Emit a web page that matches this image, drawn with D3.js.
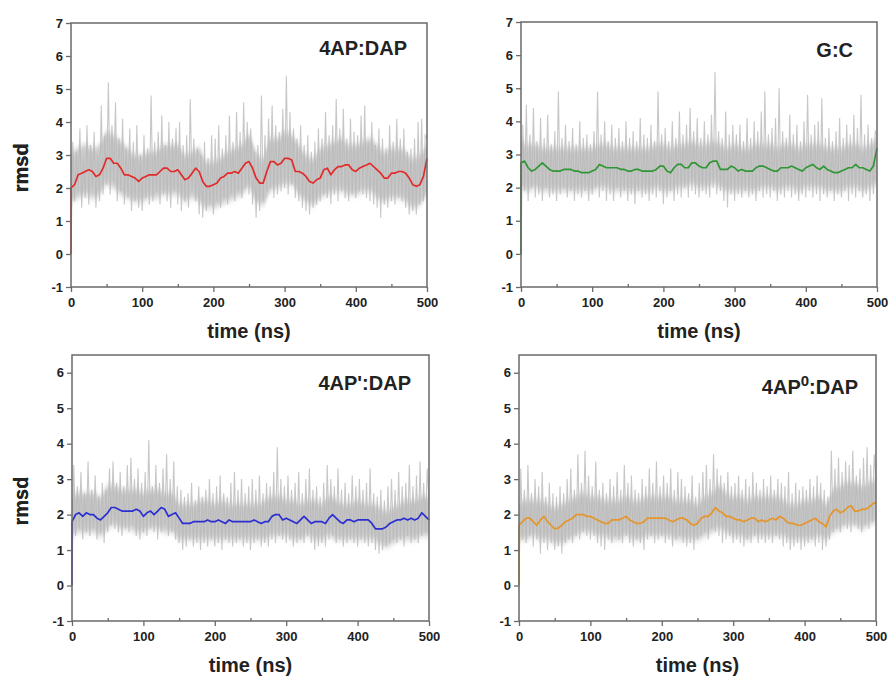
<!DOCTYPE html>
<html>
<head>
<meta charset="utf-8">
<script src="https://cdn.jsdelivr.net/npm/d3@7"></script>
<style>
  body { margin: 0; background: #fff; }
  svg { font-family: 'Liberation Sans', Arial, sans-serif; font-weight: bold; }
</style>
</head>
<body>
<svg id="rmsd-svg" width="890" height="677"></svg>
<script>
// time axis (ns)
var rawStep = 2.5
var smoothStep = 5
var bandStep = 10
var xTicks = [0, 100, 200, 300, 400, 500]
var xMinorTicks = [50, 150, 250, 350, 450]
var yTicksTop = [-1, 0, 1, 2, 3, 4, 5, 6, 7]
var yTicksBottom = [-1, 0, 1, 2, 3, 4, 5, 6]

// raw rmsd, one value every 2.5 ns (0 .. 500)
var raw4APDAP = [
  0, 3.4, 1.6, 3.1, 1.9, 3.8, 1.4, 2.9, 1.7, 3.9, 1.5, 3.3, 2.0, 3.7, 1.4, 3.0, 1.6, 4.5, 1.8, 3.6,
  2.1, 5.2, 1.8, 3.9, 2.2, 4.6, 1.6, 3.5, 1.9, 4.1, 1.5, 3.2, 1.7, 3.8, 1.3, 3.4, 1.6, 3.9, 1.4, 3.0,
  1.3, 3.6, 1.7, 3.2, 1.5, 4.8, 1.6, 3.4, 1.9, 3.7, 1.5, 4.2, 1.8, 3.3, 1.6, 4.0, 1.4, 3.5, 1.9, 3.8,
  1.5, 4.0, 1.3, 3.3, 1.6, 3.6, 1.4, 4.7, 1.9, 3.5, 1.6, 3.2, 1.2, 3.0, 1.1, 3.4, 1.3, 2.9, 1.5, 3.6,
  1.2, 3.5, 1.6, 3.9, 1.4, 3.2, 1.7, 3.6, 1.5, 4.2, 1.8, 3.4, 1.6, 4.3, 1.9, 3.7, 1.7, 4.6, 2.0, 4.0,
  1.8, 3.8, 1.5, 3.1, 1.1, 3.3, 1.3, 4.8, 1.6, 3.6, 1.9, 4.1, 2.0, 4.5, 1.7, 3.9, 1.8, 3.7, 1.9, 4.4,
  2.0, 5.4, 1.8, 4.3, 2.1, 3.8, 1.7, 3.5, 1.6, 3.9, 1.4, 3.3, 1.3, 3.6, 1.2, 3.1, 1.4, 3.4, 1.5, 3.8,
  1.6, 3.5, 1.8, 4.3, 1.7, 3.6, 1.5, 3.9, 1.8, 4.7, 1.6, 3.8, 1.9, 4.4, 1.7, 3.5, 1.6, 4.1, 1.8, 3.7,
  1.7, 3.6, 1.9, 4.2, 1.8, 4.5, 1.7, 3.4, 1.6, 4.0, 1.5, 3.3, 1.4, 3.8, 1.1, 3.5, 1.5, 3.2, 1.4, 3.9,
  1.6, 3.4, 1.5, 4.1, 1.7, 3.5, 1.6, 3.8, 1.4, 3.1, 1.2, 3.2, 1.3, 3.5, 1.2, 4.0, 1.5, 4.1, 1.6, 3.6,
  3.5
]
var rawGC = [
  0, 3.9, 1.9, 4.5, 1.6, 3.6, 2.0, 4.4, 1.7, 3.4, 1.8, 4.1, 1.6, 3.5, 2.0, 4.2, 1.7, 3.3, 1.8, 3.7,
  1.6, 4.9, 1.8, 3.5, 2.0, 3.9, 1.7, 3.4, 1.9, 3.8, 1.6, 3.3, 1.8, 4.0, 1.7, 3.5, 1.9, 3.6, 1.6, 3.3,
  1.8, 3.7, 2.0, 4.9, 1.7, 3.6, 1.9, 4.0, 1.6, 3.4, 1.8, 3.9, 1.6, 3.5, 2.0, 3.8, 1.7, 3.4, 1.9, 4.0,
  1.6, 3.5, 1.8, 3.7, 1.5, 3.4, 1.9, 4.1, 1.7, 3.6, 1.8, 3.5, 1.6, 3.9, 1.8, 3.4, 1.7, 4.9, 1.9, 3.6,
  1.5, 3.8, 1.7, 3.4, 1.9, 4.0, 1.6, 3.5, 1.8, 4.3, 1.7, 3.6, 2.0, 3.9, 1.7, 4.4, 1.9, 3.7, 1.8, 4.1,
  1.7, 3.5, 1.9, 4.0, 1.8, 3.6, 1.7, 4.2, 2.0, 5.5, 1.8, 3.7, 1.9, 3.5, 1.6, 4.3, 1.4, 3.6, 1.8, 3.9,
  1.6, 3.6, 1.8, 3.9, 1.7, 3.4, 1.9, 4.1, 1.7, 3.5, 1.8, 4.0, 1.6, 3.7, 1.9, 4.3, 1.7, 4.9, 1.8, 3.6,
  1.7, 3.8, 1.9, 4.1, 1.6, 5.0, 1.8, 3.7, 1.7, 3.5, 1.9, 4.2, 1.7, 3.6, 1.8, 3.9, 1.6, 3.4, 1.8, 4.0,
  1.7, 4.8, 1.9, 3.6, 1.7, 3.9, 1.8, 4.0, 1.6, 4.7, 1.8, 3.5, 1.7, 3.8, 1.9, 3.4, 1.6, 3.7, 1.8, 4.1,
  1.7, 3.5, 1.9, 3.9, 1.6, 3.6, 1.8, 4.2, 1.7, 3.8, 1.9, 4.8, 1.7, 3.6, 1.8, 3.9, 1.6, 3.5, 1.8, 3.7,
  3.6
]
var raw4APpDAP = [
  0, 3.4, 1.4, 2.8, 1.6, 3.2, 1.3, 2.6, 1.5, 3.5, 1.4, 2.7, 1.6, 3.1, 1.3, 2.5, 1.5, 2.9, 1.2, 2.7,
  1.5, 3.3, 1.7, 3.5, 1.6, 2.9, 1.5, 3.2, 1.4, 2.8, 1.6, 3.4, 1.5, 3.6, 1.7, 3.0, 1.4, 3.3, 1.3, 2.9,
  1.5, 3.2, 1.4, 4.1, 1.6, 2.8, 1.5, 3.4, 1.3, 2.9, 1.5, 3.3, 1.7, 3.7, 1.4, 3.0, 1.5, 3.5, 1.3, 2.8,
  1.2, 2.7, 1.0, 2.5, 1.1, 2.6, 1.3, 2.9, 1.1, 2.4, 1.2, 2.8, 1.0, 2.5, 1.2, 2.7, 1.1, 3.0, 1.3, 2.6,
  1.1, 2.8, 1.2, 3.1, 1.0, 2.6, 1.3, 2.5, 1.2, 2.9, 1.1, 3.2, 1.2, 2.7, 1.3, 3.0, 1.1, 2.6, 1.2, 2.8,
  1.0, 3.0, 1.2, 2.7, 1.3, 3.1, 1.1, 2.6, 1.2, 2.9, 1.1, 2.8, 1.3, 3.2, 1.2, 3.9, 1.4, 3.0, 1.3, 2.8,
  1.2, 3.1, 1.3, 2.7, 1.1, 2.9, 1.2, 3.2, 1.3, 2.6, 1.2, 3.0, 1.4, 3.3, 1.2, 2.7, 1.0, 2.8, 1.1, 2.5,
  1.2, 2.9, 1.1, 3.4, 1.3, 3.0, 1.4, 2.8, 1.2, 3.3, 1.3, 2.7, 1.1, 2.9, 1.2, 2.6, 1.3, 3.1, 1.2, 2.8,
  1.1, 3.0, 1.3, 2.7, 1.2, 2.9, 1.1, 3.3, 1.2, 2.6, 1.0, 2.5, 0.9, 2.7, 1.0, 2.4, 1.1, 2.8, 1.2, 3.0,
  1.3, 2.7, 1.2, 3.2, 1.3, 2.8, 1.1, 2.9, 1.4, 3.4, 1.2, 2.8, 1.3, 3.1, 1.2, 3.5, 1.4, 2.9, 1.5, 3.3,
  2.4
]
var raw4AP0DAP = [
  0, 3.3, 1.3, 2.7, 1.2, 3.4, 1.4, 2.6, 1.1, 3.0, 1.3, 2.8, 0.9, 3.2, 1.2, 2.5, 1.0, 2.9, 1.2, 2.6,
  1.0, 2.5, 1.1, 2.8, 0.9, 2.6, 1.2, 3.0, 1.3, 3.3, 1.2, 2.7, 1.4, 3.7, 1.3, 2.9, 1.5, 3.8, 1.4, 3.1,
  1.3, 2.8, 1.4, 3.5, 1.2, 2.7, 1.1, 2.9, 1.0, 2.6, 1.3, 3.0, 1.2, 2.8, 1.4, 3.2, 1.3, 2.7, 1.2, 3.4,
  1.4, 2.9, 1.2, 3.1, 1.1, 2.7, 1.3, 2.6, 1.2, 3.0, 1.0, 2.8, 1.3, 3.3, 1.4, 2.9, 1.2, 3.5, 1.3, 2.8,
  1.4, 3.1, 1.2, 2.9, 1.3, 3.3, 1.1, 2.7, 1.3, 3.2, 1.4, 3.0, 1.2, 2.8, 1.1, 2.6, 1.2, 3.1, 1.0, 2.5,
  1.3, 2.9, 1.4, 3.2, 1.5, 3.4, 1.3, 3.0, 1.6, 3.7, 1.5, 3.3, 1.4, 3.1, 1.2, 2.9, 1.3, 3.2, 1.4, 2.8,
  1.2, 2.9, 1.3, 3.1, 1.2, 2.7, 1.1, 3.0, 1.3, 2.8, 1.2, 3.2, 1.4, 2.9, 1.2, 2.7, 1.3, 3.0, 1.2, 2.8,
  1.3, 3.1, 1.2, 2.7, 1.4, 3.0, 1.3, 2.9, 1.1, 2.8, 1.2, 3.2, 1.0, 2.6, 1.1, 2.9, 1.2, 2.7, 1.0, 2.8,
  1.1, 2.7, 1.2, 3.0, 1.3, 2.8, 1.1, 3.1, 1.2, 2.9, 1.0, 2.7, 1.1, 2.5, 1.3, 3.8, 1.5, 3.3, 1.6, 3.6,
  1.5, 3.2, 1.7, 3.5, 1.6, 3.4, 1.5, 3.8, 1.7, 3.1, 1.6, 3.3, 1.5, 3.6, 1.7, 3.9, 1.6, 3.4, 1.8, 3.7,
  2.9
]

// dense core of the raw trace, lower / upper edge every 10 ns (0 .. 500)
var coreLow4APDAP = [
  1.6, 1.7, 1.8, 1.7, 1.8, 2.1, 2.0, 1.8, 1.7, 1.6,
  1.6, 1.7, 1.7, 1.8, 1.8, 1.8, 1.6, 1.7, 1.6, 1.4,
  1.4, 1.5, 1.6, 1.7, 1.8, 2.0, 1.6, 1.5, 1.9, 2.0,
  2.1, 2.1, 1.8, 1.6, 1.5, 1.7, 1.8, 1.9, 1.9, 1.8,
  1.8, 1.9, 1.9, 1.7, 1.6, 1.7, 1.7, 1.6, 1.4, 1.5,
  1.8
]
var coreHigh4APDAP = [
  3.1, 3.2, 3.3, 3.2, 3.3, 3.7, 3.6, 3.4, 3.2, 3.0,
  3.0, 3.1, 3.1, 3.3, 3.3, 3.3, 3.0, 3.1, 3.2, 2.8,
  2.8, 2.9, 3.1, 3.2, 3.3, 3.6, 3.1, 2.9, 3.5, 3.5,
  3.7, 3.6, 3.3, 3.0, 2.9, 3.2, 3.3, 3.4, 3.5, 3.3,
  3.3, 3.4, 3.5, 3.3, 3.1, 3.2, 3.2, 3.1, 2.9, 3.0,
  3.3
]
var coreLowGC = [
  2.0, 1.9, 2.0, 1.9, 1.9, 1.9, 1.9, 1.9, 1.9, 1.9,
  1.9, 2.0, 2.0, 1.9, 1.9, 1.9, 1.9, 1.9, 1.9, 2.0,
  1.9, 1.9, 2.0, 2.0, 2.1, 2.0, 2.0, 2.1, 2.0, 1.9,
  1.9, 1.9, 1.9, 1.9, 2.0, 2.0, 1.9, 2.0, 2.0, 1.9,
  2.0, 2.0, 2.0, 1.9, 1.9, 1.9, 2.0, 2.0, 1.9, 2.0,
  2.1
]
var coreHighGC = [
  3.4, 3.3, 3.3, 3.2, 3.2, 3.2, 3.2, 3.2, 3.2, 3.2,
  3.2, 3.3, 3.3, 3.2, 3.2, 3.2, 3.2, 3.2, 3.2, 3.3,
  3.3, 3.2, 3.3, 3.3, 3.4, 3.3, 3.3, 3.4, 3.3, 3.2,
  3.3, 3.2, 3.2, 3.3, 3.3, 3.3, 3.2, 3.3, 3.3, 3.2,
  3.3, 3.3, 3.3, 3.2, 3.2, 3.2, 3.3, 3.3, 3.2, 3.3,
  3.5
]
var coreLow4APpDAP = [
  1.4, 1.5, 1.5, 1.5, 1.4, 1.6, 1.7, 1.6, 1.6, 1.5,
  1.5, 1.6, 1.6, 1.5, 1.5, 1.3, 1.3, 1.3, 1.3, 1.3,
  1.3, 1.3, 1.3, 1.3, 1.3, 1.3, 1.3, 1.3, 1.4, 1.4,
  1.4, 1.3, 1.3, 1.4, 1.3, 1.3, 1.4, 1.3, 1.3, 1.3,
  1.3, 1.3, 1.3, 1.2, 1.1, 1.2, 1.3, 1.3, 1.3, 1.4,
  1.4
]
var coreHigh4APpDAP = [
  2.5, 2.6, 2.6, 2.6, 2.5, 2.8, 2.8, 2.7, 2.7, 2.7,
  2.6, 2.7, 2.7, 2.6, 2.6, 2.3, 2.3, 2.3, 2.4, 2.4,
  2.3, 2.4, 2.3, 2.3, 2.3, 2.3, 2.3, 2.4, 2.5, 2.5,
  2.4, 2.4, 2.3, 2.4, 2.4, 2.3, 2.5, 2.4, 2.3, 2.3,
  2.4, 2.3, 2.3, 2.2, 2.1, 2.2, 2.3, 2.4, 2.4, 2.5,
  2.5
]
var coreLow4AP0DAP = [
  1.3, 1.3, 1.4, 1.3, 1.3, 1.2, 1.2, 1.3, 1.4, 1.5,
  1.5, 1.4, 1.4, 1.3, 1.3, 1.4, 1.3, 1.3, 1.4, 1.4,
  1.4, 1.4, 1.3, 1.3, 1.3, 1.3, 1.4, 1.5, 1.6, 1.5,
  1.4, 1.4, 1.3, 1.4, 1.4, 1.4, 1.4, 1.4, 1.3, 1.3,
  1.3, 1.3, 1.4, 1.3, 1.5, 1.6, 1.7, 1.7, 1.6, 1.7,
  1.8
]
var coreHigh4AP0DAP = [
  2.3, 2.4, 2.4, 2.4, 2.3, 2.2, 2.3, 2.4, 2.5, 2.6,
  2.5, 2.5, 2.4, 2.4, 2.4, 2.5, 2.4, 2.4, 2.5, 2.5,
  2.5, 2.5, 2.4, 2.4, 2.4, 2.3, 2.5, 2.6, 2.8, 2.6,
  2.5, 2.5, 2.4, 2.5, 2.5, 2.5, 2.5, 2.4, 2.3, 2.3,
  2.4, 2.4, 2.5, 2.3, 2.7, 2.8, 2.9, 2.9, 2.8, 2.9,
  3.0
]

// running average, one value every 5 ns (0 .. 500)
var avg4APDAP = [
  2.0, 2.1, 2.4, 2.45, 2.5, 2.55, 2.5, 2.35, 2.4, 2.6,
  2.9, 2.9, 2.75, 2.75, 2.6, 2.4, 2.4, 2.35, 2.3, 2.2,
  2.3, 2.35, 2.4, 2.4, 2.4, 2.5, 2.6, 2.6, 2.5, 2.5,
  2.55, 2.4, 2.25, 2.3, 2.45, 2.6, 2.5, 2.2, 2.05, 2.05,
  2.1, 2.15, 2.3, 2.35, 2.45, 2.45, 2.5, 2.45, 2.6, 2.75,
  2.8, 2.6, 2.3, 2.15, 2.15, 2.5, 2.8, 2.8, 2.7, 2.75,
  2.9, 2.9, 2.85, 2.5, 2.5, 2.45, 2.35, 2.2, 2.15, 2.25,
  2.3, 2.55, 2.6, 2.4, 2.55, 2.65, 2.65, 2.7, 2.7, 2.55,
  2.5, 2.6, 2.65, 2.7, 2.75, 2.65, 2.55, 2.45, 2.3, 2.3,
  2.45, 2.45, 2.5, 2.5, 2.45, 2.3, 2.1, 2.05, 2.1, 2.35,
  2.9
]
var avgGC = [
  2.75, 2.8, 2.6, 2.5, 2.55, 2.65, 2.75, 2.65, 2.55, 2.5,
  2.5, 2.5, 2.55, 2.55, 2.55, 2.5, 2.5, 2.45, 2.45, 2.45,
  2.5, 2.55, 2.7, 2.65, 2.6, 2.6, 2.6, 2.6, 2.55, 2.55,
  2.5, 2.5, 2.55, 2.55, 2.5, 2.5, 2.5, 2.5, 2.55, 2.65,
  2.65, 2.5, 2.45, 2.6, 2.7, 2.7, 2.6, 2.6, 2.75, 2.75,
  2.65, 2.6, 2.6, 2.75, 2.8, 2.8, 2.55, 2.55, 2.55, 2.65,
  2.6, 2.5, 2.55, 2.5, 2.5, 2.5, 2.6, 2.65, 2.65, 2.6,
  2.55, 2.5, 2.5, 2.6, 2.6, 2.6, 2.65, 2.6, 2.55, 2.5,
  2.6, 2.65, 2.7, 2.6, 2.55, 2.65, 2.55, 2.5, 2.45, 2.45,
  2.5, 2.55, 2.6, 2.6, 2.7, 2.6, 2.6, 2.55, 2.5, 2.65,
  3.2
]
var avg4APpDAP = [
  1.8, 2.0, 2.05, 1.95, 2.05, 2.0, 2.0, 1.9, 1.85, 1.95,
  2.05, 2.2, 2.2, 2.15, 2.1, 2.1, 2.1, 2.1, 2.15, 2.1,
  1.95, 2.05, 2.1, 2.0, 2.1, 2.2, 2.15, 1.95, 2.0, 2.05,
  1.9, 1.75, 1.75, 1.75, 1.8, 1.8, 1.8, 1.8, 1.85, 1.8,
  1.8, 1.85, 1.8, 1.75, 1.85, 1.8, 1.8, 1.8, 1.8, 1.8,
  1.8, 1.85, 1.8, 1.75, 1.8, 1.8, 1.95, 2.0, 2.0, 1.85,
  1.9, 1.85, 1.8, 1.75, 1.85, 1.95, 1.85, 1.75, 1.8, 1.8,
  1.8, 1.75, 1.9, 2.0, 1.9, 1.8, 1.75, 1.85, 1.85, 1.8,
  1.85, 1.85, 1.85, 1.85, 1.75, 1.6, 1.6, 1.6, 1.65, 1.75,
  1.8, 1.85, 1.85, 1.9, 1.85, 1.9, 1.85, 1.9, 2.05, 1.95,
  1.85
]
var avg4AP0DAP = [
  1.7, 1.8, 1.9, 1.9, 1.8, 1.7, 1.85, 1.95, 1.8, 1.7,
  1.6, 1.62, 1.7, 1.8, 1.85, 1.9, 2.0, 2.0, 2.0, 1.95,
  1.95, 1.9, 1.85, 1.8, 1.75, 1.75, 1.85, 1.85, 1.85, 1.9,
  1.95, 1.85, 1.8, 1.75, 1.75, 1.8, 1.9, 1.9, 1.9, 1.9,
  1.9, 1.9, 1.85, 1.8, 1.85, 1.9, 1.9, 1.85, 1.75, 1.7,
  1.75, 1.9, 1.95, 1.95, 2.05, 2.2, 2.1, 2.05, 1.95, 1.95,
  1.9, 1.85, 1.85, 1.8, 1.85, 1.9, 1.9, 1.8, 1.85, 1.8,
  1.85, 1.9, 1.85, 1.95, 1.9, 1.8, 1.75, 1.75, 1.7, 1.7,
  1.75, 1.8, 1.85, 1.9, 1.8, 1.75, 1.65, 1.95, 2.1, 2.15,
  2.05, 2.1, 2.2, 2.25, 2.1, 2.1, 2.15, 2.15, 2.2, 2.3,
  2.35
]

// layout of the four panels
var panels = [
  { name: '4AP:DAP', raw: raw4APDAP, low: coreLow4APDAP, high: coreHigh4APDAP, avg: avg4APDAP, color: '#e32a2a',
    left: 71, right: 427, top: 23, bottom: 287, yMax: 7, yTicks: yTicksTop, labelDx: 20, labelY: 55 },
  { name: 'G:C', raw: rawGC, low: coreLowGC, high: coreHighGC, avg: avgGC, color: '#2f9634',
    left: 521, right: 877, top: 22, bottom: 287, yMax: 7, yTicks: yTicksTop, labelDx: 24, labelY: 57 },
  { name: "4AP':DAP", raw: raw4APpDAP, low: coreLow4APpDAP, high: coreHigh4APpDAP, avg: avg4APpDAP, color: '#2b2fd0',
    left: 72, right: 429, top: 355, bottom: 621, yMax: 6.5, yTicks: yTicksBottom, labelDx: 18, labelY: 390 },
  { name: '4AP|0|:DAP', raw: raw4AP0DAP, low: coreLow4AP0DAP, high: coreHigh4AP0DAP, avg: avg4AP0DAP, color: '#e5952a',
    left: 519, right: 876, top: 355, bottom: 621, yMax: 6.5, yTicks: yTicksBottom, labelDx: 18, labelY: 394 }
]

var svg = d3.select('#rmsd-svg')
var frameColor = '#6a6a6a'
var textColor = '#222'

// soft edge for the dense core band
svg.append('defs')
  .append('filter')
  .attr('id', 'soft-band')
  .attr('x', '-5%').attr('y', '-30%').attr('width', '110%').attr('height', '160%')
  .append('feGaussianBlur')
  .attr('stdDeviation', '0.6 3')

panels.forEach(function (p, pI) {
  var x = d3.scaleLinear().domain([0, 500]).range([p.left, p.right])
  var y = d3.scaleLinear().domain([-1, p.yMax]).range([p.bottom, p.top])
  var g = svg.append('g').attr('class', 'panel').attr('id', 'panel-' + pI)

  // dense core of the raw trajectory
  var coreArea = d3.area()
    .x(function (d, i) { return x(i * bandStep) })
    .y0(function (d, i) { return y(p.low[i]) })
    .y1(function (d, i) { return y(p.high[i]) })
    .curve(d3.curveMonotoneX)
  g.append('path')
    .datum(p.low)
    .attr('d', coreArea)
    .attr('fill', '#c9c9c9')
    .attr('filter', 'url(#soft-band)')

  // raw trajectory
  var rawLine = d3.line()
    .x(function (d, i) { return x(i * rawStep) })
    .y(function (d) { return y(d) })
  g.append('path')
    .datum(p.raw)
    .attr('d', rawLine)
    .attr('fill', 'none')
    .attr('stroke', '#b9b9b9')
    .attr('stroke-width', 1.1)
    .attr('stroke-opacity', 0.8)

  // running average, starting from the first frame value
  var avgData = [[0, p.raw[0]]].concat(p.avg.map(function (v, i) { return [i * smoothStep, v] }))
  var avgLine = d3.line()
    .x(function (d) { return x(d[0]) })
    .y(function (d) { return y(d[1]) })
  g.append('path')
    .datum(avgData)
    .attr('d', avgLine)
    .attr('fill', 'none')
    .attr('stroke', p.color)
    .attr('stroke-width', 1.7)
    .attr('stroke-linejoin', 'round')

  // axes
  var xAxis = g.append('g')
    .attr('transform', 'translate(0,' + p.bottom + ')')
    .call(d3.axisBottom(x).tickValues(xTicks).tickSize(5).tickPadding(6).tickFormat(function (d) { return String(d) }))
  var xMinor = g.append('g')
    .attr('transform', 'translate(0,' + p.bottom + ')')
    .call(d3.axisBottom(x).tickValues(xMinorTicks).tickSize(-3).tickFormat(''))
  var yAxis = g.append('g')
    .attr('transform', 'translate(' + p.left + ',0)')
    .call(d3.axisLeft(y).tickValues(p.yTicks).tickSize(5).tickPadding(3).tickFormat(function (d) { return String(d) }))
  ;[xAxis, xMinor, yAxis].forEach(function (a) {
    a.select('.domain').remove()
    a.selectAll('line').attr('stroke', frameColor).attr('stroke-width', 1.3)
    a.selectAll('text')
      .attr('fill', textColor)
      .style('font-size', '13px')
      .style('font-weight', 'bold')
      .style('font-family', "'Liberation Sans', Arial, sans-serif")
  })

  // frame
  g.append('rect')
    .attr('x', p.left)
    .attr('y', p.top)
    .attr('width', p.right - p.left)
    .attr('height', p.bottom - p.top)
    .attr('fill', 'none')
    .attr('stroke', frameColor)
    .attr('stroke-width', 1.5)

  // axis titles
  var midX = (p.left + p.right) / 2
  var midY = (p.top + p.bottom) / 2 + 13
  g.append('text')
    .attr('transform', 'translate(' + 28 + ',' + midY + ') rotate(-90)')
    .attr('text-anchor', 'middle')
    .attr('fill', textColor)
    .style('font-size', '20px')
    .text('rmsd')
  g.append('text')
    .attr('x', midX)
    .attr('y', p.bottom + 51)
    .attr('text-anchor', 'middle')
    .attr('fill', textColor)
    .style('font-size', '20px')
    .text('time (ns)')

  // panel label (with optional superscript between bars)
  var label = g.append('text')
    .attr('x', p.right - p.labelDx)
    .attr('y', p.labelY)
    .attr('text-anchor', 'end')
    .attr('fill', textColor)
    .style('font-size', '20px')
  var parts = p.name.split('|')
  label.append('tspan').text(parts[0])
  if (parts.length > 1) {
    label.append('tspan').attr('dy', -8).style('font-size', '15px').text(parts[1])
    label.append('tspan').attr('dy', 8).text(parts[2])
  }
})
</script>
</body>
</html>
